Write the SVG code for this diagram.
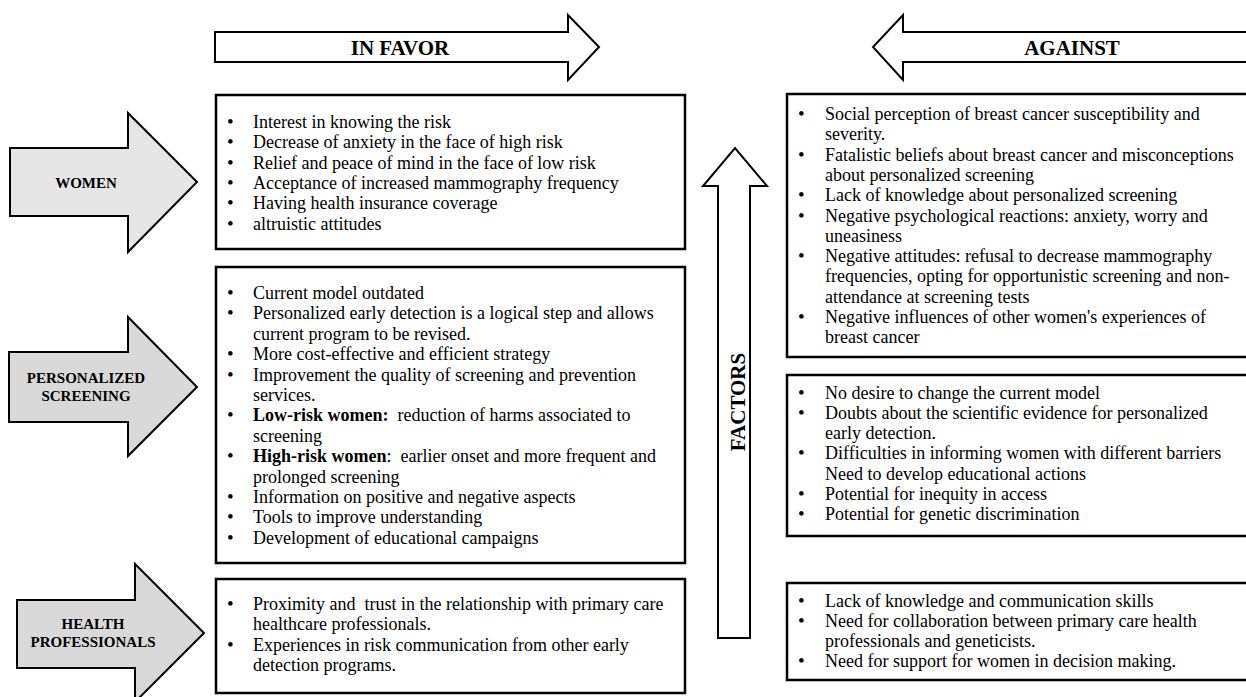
<svg xmlns="http://www.w3.org/2000/svg" width="1246" height="697" viewBox="0 0 1246 697">
<style>
.bg{fill:#ffffff}
.box{fill:#ffffff;stroke:#000;stroke-width:2.5}
.arr{fill:#ffffff;stroke:#000;stroke-width:2}
.g1{fill:#e6e6e6;stroke:#000;stroke-width:2}
.g2{fill:#d9d9d9;stroke:#000;stroke-width:2}
.t{font-family:"Liberation Serif","Times New Roman",serif;font-size:18px;fill:#000}
.b{font-family:"Liberation Serif","Times New Roman",serif;font-size:19px;fill:#000}
.h{font-family:"Liberation Serif","Times New Roman",serif;font-size:21px;font-weight:bold;fill:#000;text-anchor:middle}
.l{font-family:"Liberation Serif","Times New Roman",serif;font-size:15px;font-weight:bold;fill:#000;text-anchor:middle}
.bo{font-weight:bold}
</style>
<rect class="bg" x="0" y="0" width="1246" height="697"/>
<g id="connectors">
  <g id="in-favor-arrow">
    <polygon class="arr" points="215,32 568,32 568,15 599,47 568,80 568,62 215,62"/>
    <text class="h" x="400" y="55">IN FAVOR</text>
  </g>
  <g id="against-arrow">
    <polygon class="arr" points="1252,32 903,32 903,15 873,47 903,80 903,62 1252,62"/>
    <text class="h" x="1072" y="55">AGAINST</text>
  </g>
  <g id="factors-arrow">
    <polygon class="arr" points="718,638 718,186 703,186 735,148 767,186 750,186 750,638"/>
    <text class="h" transform="translate(745,402) rotate(-90)">FACTORS</text>
  </g>
</g>
<g id="women">
  <polygon class="g1" points="10,148 128,148 128,113 197,182 128,252 128,216 10,216"/>
  <text class="l" x="86" y="188">WOMEN</text>
</g>
<g id="personalized-screening">
  <polygon class="g2" points="9,352 128,352 128,317 197,387 128,456 128,422 9,422"/>
  <text class="l" x="86" y="383">PERSONALIZED</text>
  <text class="l" x="86" y="401">SCREENING</text>
</g>
<g id="health-professionals">
  <polygon class="g2" points="17,600 135,600 135,564 204,633 135,702 135,668 17,668"/>
  <text class="l" x="93" y="629">HEALTH</text>
  <text class="l" x="93" y="647">PROFESSIONALS</text>
</g>
<g id="women-favor">
  <rect class="box" x="216" y="95" width="469" height="154"/>
  <text class="b" x="227" y="128">•</text><text class="t" x="253" y="128">Interest in knowing the risk</text>
  <text class="b" x="227" y="148.3">•</text><text class="t" x="253" y="148.3">Decrease of anxiety in the face of high risk</text>
  <text class="b" x="227" y="168.6">•</text><text class="t" x="253" y="168.6">Relief and peace of mind in the face of low risk</text>
  <text class="b" x="227" y="188.9">•</text><text class="t" x="253" y="188.9">Acceptance of increased mammography frequency</text>
  <text class="b" x="227" y="209.2">•</text><text class="t" x="253" y="209.2">Having health insurance coverage</text>
  <text class="b" x="227" y="229.5">•</text><text class="t" x="253" y="229.5">altruistic attitudes</text>
</g>
<g id="screening-favor">
  <rect class="box" x="216" y="267" width="469" height="296"/>
  <text class="b" x="227" y="299">•</text><text class="t" x="253" y="299">Current model outdated</text>
  <text class="b" x="227" y="319.4">•</text><text class="t" x="253" y="319.4">Personalized early detection is a logical step and allows</text>
  <text class="t" x="253" y="339.8">current program to be revised.</text>
  <text class="b" x="227" y="360.2">•</text><text class="t" x="253" y="360.2">More cost-effective and efficient strategy</text>
  <text class="b" x="227" y="380.6">•</text><text class="t" x="253" y="380.6">Improvement the quality of screening and prevention</text>
  <text class="t" x="253" y="401">services.</text>
  <text class="b" x="227" y="421.4">•</text><text class="t" x="253" y="421.4" xml:space="preserve"><tspan class="bo">Low-risk women:</tspan>  reduction of harms associated to</text>
  <text class="t" x="253" y="441.8">screening</text>
  <text class="b" x="227" y="462.2">•</text><text class="t" x="253" y="462.2" xml:space="preserve"><tspan class="bo">High-risk women</tspan>:  earlier onset and more frequent and</text>
  <text class="t" x="253" y="482.6">prolonged screening</text>
  <text class="b" x="227" y="503">•</text><text class="t" x="253" y="503">Information on positive and negative aspects</text>
  <text class="b" x="227" y="523.4">•</text><text class="t" x="253" y="523.4">Tools to improve understanding</text>
  <text class="b" x="227" y="543.8">•</text><text class="t" x="253" y="543.8">Development of educational campaigns</text>
</g>
<g id="health-favor">
  <rect class="box" x="216" y="579" width="469" height="114"/>
  <text class="b" x="227" y="610">•</text><text class="t" x="253" y="610" xml:space="preserve">Proximity and  trust in the relationship with primary care</text>
  <text class="t" x="253" y="630.4">healthcare professionals.</text>
  <text class="b" x="227" y="650.8">•</text><text class="t" x="253" y="650.8">Experiences in risk communication from other early</text>
  <text class="t" x="253" y="671.2">detection programs.</text>
</g>
<g id="women-against">
  <rect class="box" x="787" y="94" width="470" height="263"/>
  <text class="b" x="798" y="120">•</text><text class="t" x="825" y="120">Social perception of breast cancer susceptibility and</text>
  <text class="t" x="825" y="140.3">severity.</text>
  <text class="b" x="798" y="160.6">•</text><text class="t" x="825" y="160.6">Fatalistic beliefs about breast cancer and misconceptions</text>
  <text class="t" x="825" y="180.9">about personalized screening</text>
  <text class="b" x="798" y="201.2">•</text><text class="t" x="825" y="201.2">Lack of knowledge about personalized screening</text>
  <text class="b" x="798" y="221.5">•</text><text class="t" x="825" y="221.5">Negative psychological reactions: anxiety, worry and</text>
  <text class="t" x="825" y="241.8">uneasiness</text>
  <text class="b" x="798" y="262.1">•</text><text class="t" x="825" y="262.1">Negative attitudes: refusal to decrease mammography</text>
  <text class="t" x="825" y="282.4">frequencies, opting for opportunistic screening and non-</text>
  <text class="t" x="825" y="302.7">attendance at screening tests</text>
  <text class="b" x="798" y="323">•</text><text class="t" x="825" y="323">Negative influences of other women's experiences of</text>
  <text class="t" x="825" y="343.3">breast cancer</text>
</g>
<g id="screening-against">
  <rect class="box" x="787" y="375" width="470" height="161"/>
  <text class="b" x="798" y="398.5">•</text><text class="t" x="825" y="398.5">No desire to change the current model</text>
  <text class="b" x="798" y="418.8">•</text><text class="t" x="825" y="418.8">Doubts about the scientific evidence for personalized</text>
  <text class="t" x="825" y="439.1">early detection.</text>
  <text class="b" x="798" y="459.4">•</text><text class="t" x="825" y="459.4">Difficulties in informing women with different barriers</text>
  <text class="t" x="825" y="479.7">Need to develop educational actions</text>
  <text class="b" x="798" y="500">•</text><text class="t" x="825" y="500">Potential for inequity in access</text>
  <text class="b" x="798" y="520.3">•</text><text class="t" x="825" y="520.3">Potential for genetic discrimination</text>
</g>
<g id="health-against">
  <rect class="box" x="787" y="583" width="470" height="97"/>
  <text class="b" x="798" y="606.5">•</text><text class="t" x="825" y="606.5">Lack of knowledge and communication skills</text>
  <text class="b" x="798" y="626.8">•</text><text class="t" x="825" y="626.8">Need for collaboration between primary care health</text>
  <text class="t" x="825" y="647.1">professionals and geneticists.</text>
  <text class="b" x="798" y="667.4">•</text><text class="t" x="825" y="667.4">Need for support for women in decision making.</text>
</g>
</svg>
